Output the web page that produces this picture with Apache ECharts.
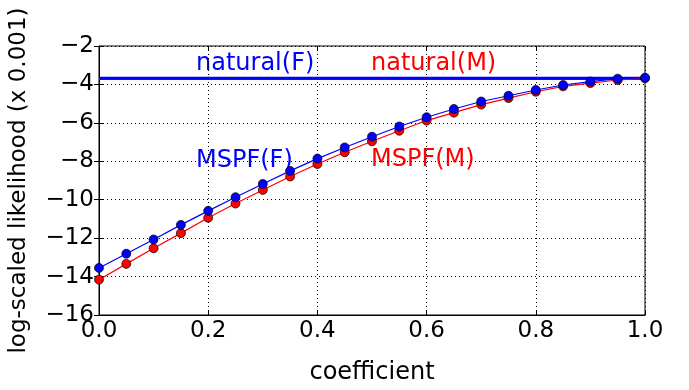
<!DOCTYPE html>
<html>
<head>
<meta charset="utf-8">
<script src="https://cdn.jsdelivr.net/npm/echarts@6/dist/echarts.min.js"></script>
<style>
  html, body { margin: 0; padding: 0; background: #fff; }
  #chart { width: 689px; height: 390px; }
</style>
</head>
<body>
<div id="chart"></div>
<script>
const coefficients = [0, 0.05, 0.1, 0.15, 0.2, 0.25, 0.3, 0.35, 0.4, 0.45, 0.5,
  0.55, 0.6, 0.65, 0.7, 0.75, 0.8, 0.85, 0.9, 0.95, 1.0];
const mspfF = [-13.55, -12.81, -12.07, -11.31, -10.58, -9.87, -9.18, -8.5, -7.86, -7.28, -6.72,
  -6.19, -5.71, -5.28, -4.89, -4.59, -4.29, -4.03, -3.85, -3.70, -3.65];
const mspfM = [-14.16, -13.34, -12.53, -11.74, -10.94, -10.2, -9.49, -8.79, -8.14, -7.53, -6.96,
  -6.41, -5.88, -5.47, -5.05, -4.71, -4.38, -4.10, -3.93, -3.77, -3.68];
const naturalF = -3.68;
const naturalM = -3.69;
const yTicks = { min: -16, max: -2, interval: 2 };
const xTicks = { min: 0, max: 1, interval: 0.2 };

const font = "DejaVu Sans";
const pairs = (ys) => coefficients.map((x, i) => [x, ys[i]]);
const minus = (v) => (v < 0 ? "\u2212" : "") + Math.abs(v);

const chart = echarts.init(document.getElementById("chart"));

const dotted = { show: true, lineStyle: { color: "#000", type: [1, 3], width: 1 } };

chart.setOption({
  animation: false,
  grid: { left: 97, right: 44, top: 46, bottom: 61, show: true, borderColor: "#000", borderWidth: 1 },
  xAxis: [
    {
      type: "value", min: xTicks.min, max: xTicks.max, interval: xTicks.interval,
      name: "coefficient", nameLocation: "middle", nameGap: 46,
      nameTextStyle: { fontFamily: font, fontSize: 24, color: "#000" },
      axisLine: { show: true, lineStyle: { color: "#000" } },
      axisTick: { show: true, inside: true, length: 5, lineStyle: { color: "#000" } },
      axisLabel: { fontFamily: font, fontSize: 23, color: "#000", margin: 5,
        formatter: (v) => v.toFixed(1) },
      splitLine: dotted
    },
    {
      type: "value", position: "top", min: xTicks.min, max: xTicks.max, interval: xTicks.interval,
      axisLine: { show: false },
      axisTick: { show: true, inside: true, length: 5, lineStyle: { color: "#000" } },
      axisLabel: { show: false }, splitLine: { show: false }
    }
  ],
  yAxis: [
    {
      type: "value", min: yTicks.min, max: yTicks.max, interval: yTicks.interval,
      name: "log-scaled likelihood (x 0.001)", nameLocation: "middle", nameGap: 68,
      nameTextStyle: { fontFamily: font, fontSize: 23, color: "#000" },
      axisLine: { show: true, lineStyle: { color: "#000" } },
      axisTick: { show: true, inside: true, length: 5, lineStyle: { color: "#000" } },
      axisLabel: { fontFamily: font, fontSize: 23, color: "#000", margin: 5, formatter: minus },
      splitLine: dotted
    },
    {
      type: "value", position: "right", min: yTicks.min, max: yTicks.max, interval: yTicks.interval,
      axisLine: { show: false },
      axisTick: { show: true, inside: true, length: 5, lineStyle: { color: "#000" } },
      axisLabel: { show: false }, splitLine: { show: false }
    }
  ],
  series: [
    {
      name: "natural(M)", type: "line", symbol: "none",
      data: [[0, naturalM], [1, naturalM]],
      lineStyle: { color: "#ff0000", width: 3 }
    },
    {
      name: "natural(F)", type: "line", symbol: "none",
      data: [[0, naturalF], [1, naturalF]],
      lineStyle: { color: "#0000ff", width: 3 }
    },
    {
      name: "MSPF(M)", type: "line", data: pairs(mspfM),
      symbol: "circle", symbolSize: 9,
      lineStyle: { color: "#ff0000", width: 1.2 },
      itemStyle: { color: "#ff0000", borderColor: "#000", borderWidth: 0.7 }
    },
    {
      name: "MSPF(F)", type: "line", data: pairs(mspfF),
      symbol: "circle", symbolSize: 9,
      lineStyle: { color: "#0000ff", width: 1.2 },
      itemStyle: { color: "#0000ff", borderColor: "#000", borderWidth: 0.7 }
    }
  ],
  graphic: [
    { type: "text", left: 196, top: 52, style: { text: "natural(F)", fill: "#0000ff", font: "24px DejaVu Sans" } },
    { type: "text", left: 371, top: 52, style: { text: "natural(M)", fill: "#ff0000", font: "24px DejaVu Sans" } },
    { type: "text", left: 196, top: 149, style: { text: "MSPF(F)", fill: "#0000ff", font: "24px DejaVu Sans" } },
    { type: "text", left: 371, top: 148, style: { text: "MSPF(M)", fill: "#ff0000", font: "24px DejaVu Sans" } }
  ]
});
</script>
</body>
</html>
